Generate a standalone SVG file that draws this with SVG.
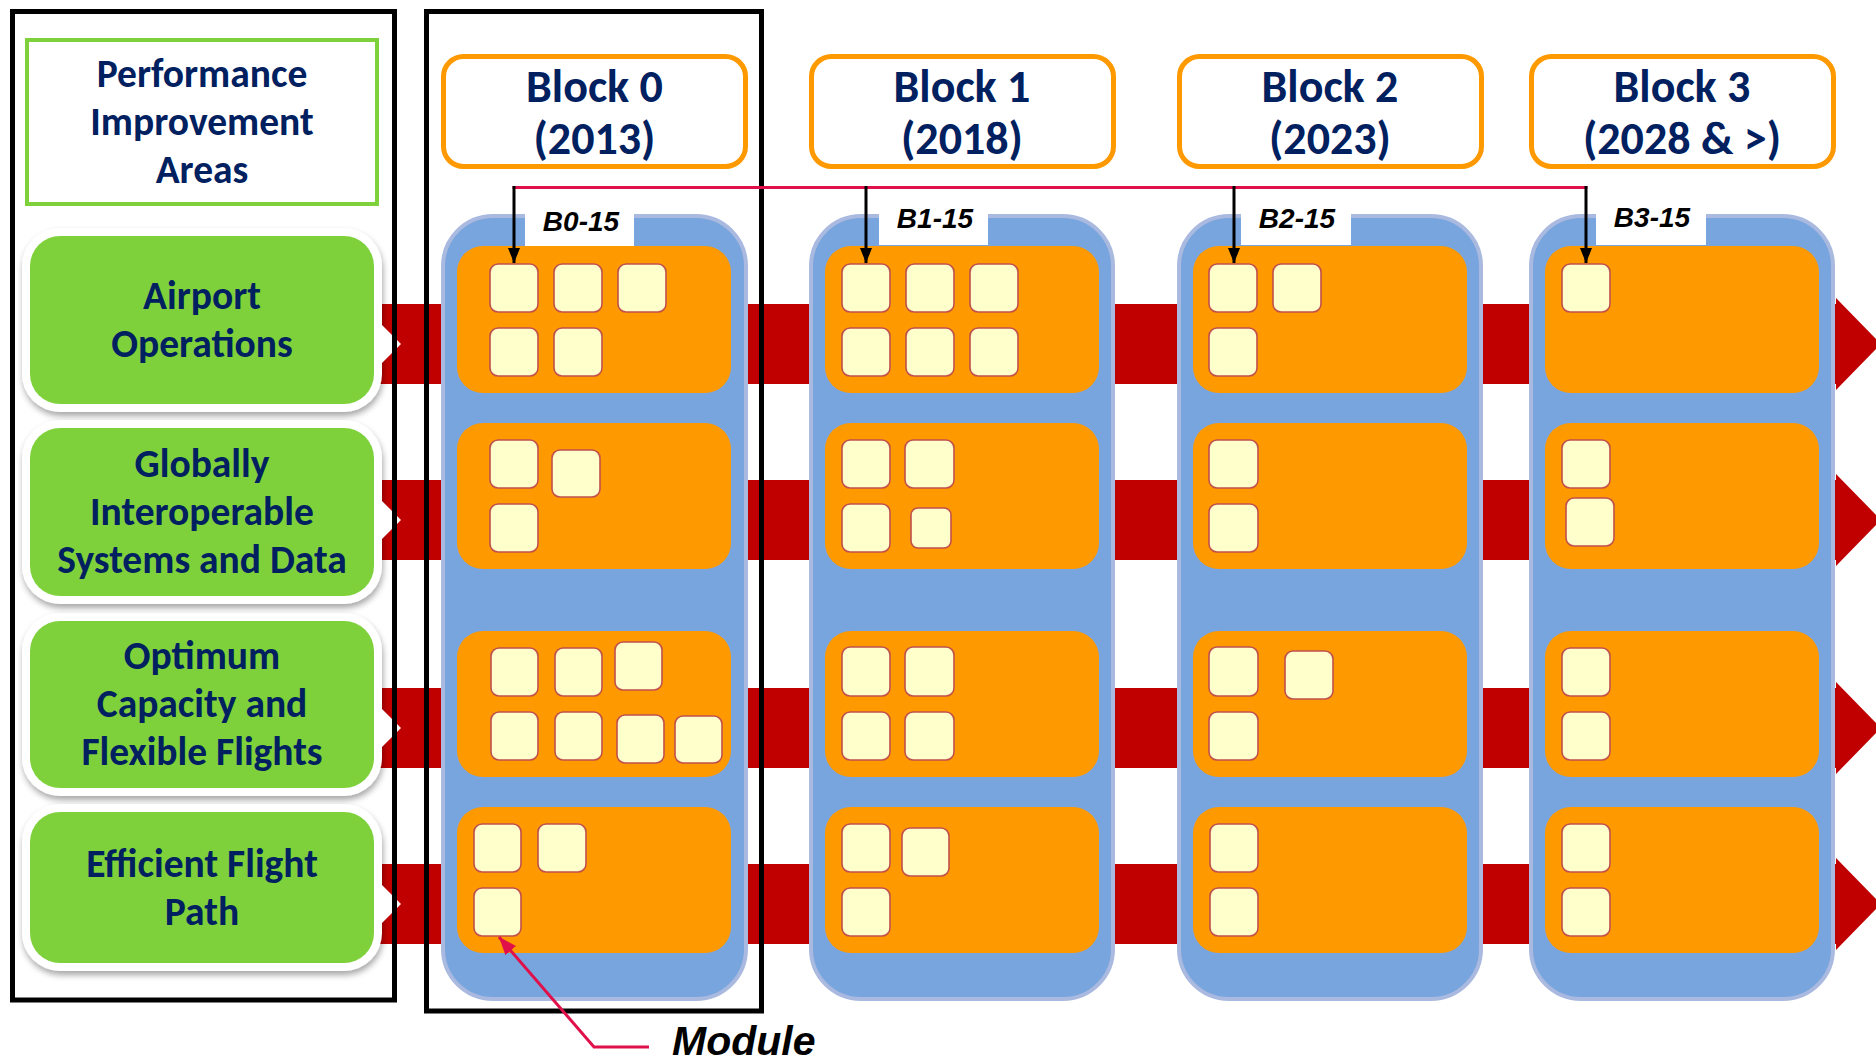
<svg xmlns="http://www.w3.org/2000/svg" width="1876" height="1064" viewBox="0 0 1876 1064">
<defs>
<style>
.band{fill:#C00000}
.notch{fill:#FFFFFF}
.frame{fill:none;stroke:#000000;stroke-width:5}
.col{fill:#78A5DD;stroke:#A9B9DF;stroke-width:4}
.row{fill:#FF9900}
.mod{fill:#FFFFCC;stroke:#C0504D;stroke-width:1.6}
.hdr{fill:#FFFFFF;stroke:#FF9900;stroke-width:5}
.lblbox{fill:#FFFFFF}
.outline{fill:#FFFFFF;filter:url(#sh)}
.green{fill:#7FD13B}
.t{font-family:Carlito,Lato,"Open Sans",sans-serif;font-weight:bold;fill:#002060;text-anchor:middle}
.ta{font-size:39.5px}
.th{font-size:46px}
.lbl{font-family:"Liberation Sans",Arial,sans-serif;font-weight:bold;font-style:italic;font-size:28px;fill:#000000;text-anchor:middle}
.redline{fill:none;stroke:#E0104A;stroke-width:3}
.blk{fill:none;stroke:#000000;stroke-width:3}
</style>
<filter id="sh" x="-10%" y="-10%" width="120%" height="125%">
<feDropShadow dx="1" dy="4" stdDeviation="3" flood-color="#000000" flood-opacity="0.35"/>
</filter>
<marker id="ah" viewBox="0 0 15 12" refX="15" refY="6" markerWidth="15" markerHeight="12" markerUnits="userSpaceOnUse" orient="auto">
<path d="M0,0 L15,6 L0,12 Z" fill="#000000"/>
</marker>
<marker id="ahr" viewBox="0 0 18 14" refX="18" refY="7" markerWidth="18" markerHeight="14" markerUnits="userSpaceOnUse" orient="auto">
<path d="M0,0 L18,7 L0,14 Z" fill="#E0104A"/>
</marker>
</defs>
<rect width="1876" height="1064" fill="#FFFFFF"/>

<g id="bands">
<path class="band" d="M370,304 H1836 V298 L1881,344 L1836,390 V384 H370 Z"/>
<path class="band" d="M370,480 H1836 V474 L1881,520 L1836,566 V560 H370 Z"/>
<path class="band" d="M370,688 H1836 V682 L1881,728 L1836,774 V768 H370 Z"/>
<path class="band" d="M370,864 H1836 V858 L1881,904 L1836,950 V944 H370 Z"/>
</g>

<g id="pia-header">
<rect x="27" y="40" width="350" height="164" fill="#FFFFFF" stroke="#7FD13B" stroke-width="4"/>
<text class="t ta" x="202" y="87">Performance</text>
<text class="t ta" x="202" y="135">Improvement</text>
<text class="t ta" x="202" y="183">Areas</text>
</g>

<g id="area-airport">
<rect class="outline" x="22" y="228" width="360" height="184" rx="38"/>
<rect class="green" x="30" y="236" width="344" height="168" rx="30"/>
<text class="t ta" x="202" y="309">Airport</text>
<text class="t ta" x="202" y="357">Operations</text>
</g>
<g id="area-globally">
<rect class="outline" x="22" y="420" width="360" height="184" rx="38"/>
<rect class="green" x="30" y="428" width="344" height="168" rx="30"/>
<text class="t ta" x="202" y="477">Globally</text>
<text class="t ta" x="202" y="525">Interoperable</text>
<text class="t ta" x="202" y="573">Systems and Data</text>
</g>
<g id="area-capacity">
<rect class="outline" x="22" y="613" width="360" height="183" rx="38"/>
<rect class="green" x="30" y="621" width="344" height="167" rx="30"/>
<text class="t ta" x="202" y="669">Optimum</text>
<text class="t ta" x="202" y="717">Capacity and</text>
<text class="t ta" x="202" y="765">Flexible Flights</text>
</g>
<g id="area-flightpath">
<rect class="outline" x="22" y="804" width="360" height="167" rx="38"/>
<rect class="green" x="30" y="812" width="344" height="151" rx="30"/>
<text class="t ta" x="202" y="877">Efficient Flight</text>
<text class="t ta" x="202" y="925">Path</text>
</g>

<g id="notches">
<polygon class="notch" points="381,324 401,344 381,364"/>
<polygon class="notch" points="381,500 401,520 381,540"/>
<polygon class="notch" points="381,708 401,728 381,748"/>
<polygon class="notch" points="381,884 401,904 381,924"/>
</g>

<g id="frames">
<rect class="frame" x="12.5" y="11.5" width="382" height="988.5"/>
<rect class="frame" x="426.5" y="11.5" width="335" height="999.5"/>
</g>

<g id="block0">
<rect class="hdr" x="443.5" y="56.5" width="302" height="110" rx="20"/>
<text class="t th" x="594.5" y="102">Block 0</text>
<text class="t th" x="594.5" y="154">(2013)</text>
<rect class="col" x="443" y="216" width="303" height="783" rx="50"/>
<rect class="lblbox" x="525" y="191" width="109" height="56"/>
<text class="lbl" x="581" y="231">B0-15</text>
<rect class="row" x="457" y="246" width="274" height="147" rx="26"/>
<rect class="row" x="457" y="423" width="274" height="146" rx="26"/>
<rect class="row" x="457" y="631" width="274" height="146" rx="26"/>
<rect class="row" x="457" y="807" width="274" height="146" rx="26"/>
<rect class="mod" x="490" y="264" width="48" height="48" rx="8"/>
<rect class="mod" x="554" y="264" width="48" height="48" rx="8"/>
<rect class="mod" x="618" y="264" width="48" height="48" rx="8"/>
<rect class="mod" x="490" y="328" width="48" height="48" rx="8"/>
<rect class="mod" x="554" y="328" width="48" height="48" rx="8"/>
<rect class="mod" x="490" y="440" width="48" height="48" rx="8"/>
<rect class="mod" x="552" y="450" width="48" height="47" rx="8"/>
<rect class="mod" x="490" y="504" width="48" height="48" rx="8"/>
<rect class="mod" x="491" y="648" width="47" height="48" rx="8"/>
<rect class="mod" x="555" y="648" width="47" height="48" rx="8"/>
<rect class="mod" x="615" y="642" width="47" height="48" rx="8"/>
<rect class="mod" x="491" y="712" width="47" height="48" rx="8"/>
<rect class="mod" x="555" y="712" width="47" height="48" rx="8"/>
<rect class="mod" x="617" y="715" width="47" height="48" rx="8"/>
<rect class="mod" x="675" y="716" width="47" height="47" rx="8"/>
<rect class="mod" x="474" y="824" width="47" height="48" rx="8"/>
<rect class="mod" x="538" y="824" width="48" height="48" rx="8"/>
<rect class="mod" x="474" y="888" width="47" height="48" rx="8"/>
</g>

<g id="block1">
<rect class="hdr" x="811.5" y="56.5" width="302" height="110" rx="20"/>
<text class="t th" x="962" y="102">Block 1</text>
<text class="t th" x="962" y="154">(2018)</text>
<rect class="col" x="811" y="216" width="302" height="783" rx="50"/>
<rect class="lblbox" x="879" y="190" width="109" height="55"/>
<text class="lbl" x="935" y="228">B1-15</text>
<rect class="row" x="825" y="246" width="274" height="147" rx="26"/>
<rect class="row" x="825" y="423" width="274" height="146" rx="26"/>
<rect class="row" x="825" y="631" width="274" height="146" rx="26"/>
<rect class="row" x="825" y="807" width="274" height="146" rx="26"/>
<rect class="mod" x="842" y="264" width="48" height="48" rx="8"/>
<rect class="mod" x="906" y="264" width="48" height="48" rx="8"/>
<rect class="mod" x="970" y="264" width="48" height="48" rx="8"/>
<rect class="mod" x="842" y="328" width="48" height="48" rx="8"/>
<rect class="mod" x="906" y="328" width="48" height="48" rx="8"/>
<rect class="mod" x="970" y="328" width="48" height="48" rx="8"/>
<rect class="mod" x="842" y="440" width="48" height="48" rx="8"/>
<rect class="mod" x="905" y="440" width="49" height="48" rx="8"/>
<rect class="mod" x="842" y="504" width="48" height="48" rx="8"/>
<rect class="mod" x="911" y="508" width="40" height="40" rx="7"/>
<rect class="mod" x="842" y="647" width="48" height="49" rx="8"/>
<rect class="mod" x="905" y="647" width="49" height="49" rx="8"/>
<rect class="mod" x="842" y="712" width="48" height="48" rx="8"/>
<rect class="mod" x="905" y="712" width="49" height="48" rx="8"/>
<rect class="mod" x="842" y="824" width="48" height="48" rx="8"/>
<rect class="mod" x="902" y="828" width="47" height="48" rx="8"/>
<rect class="mod" x="842" y="888" width="48" height="48" rx="8"/>
</g>

<g id="block2">
<rect class="hdr" x="1179.5" y="56.5" width="302" height="110" rx="20"/>
<text class="t th" x="1330" y="102">Block 2</text>
<text class="t th" x="1330" y="154">(2023)</text>
<rect class="col" x="1179" y="216" width="302" height="783" rx="50"/>
<rect class="lblbox" x="1241" y="190" width="110" height="55"/>
<text class="lbl" x="1297" y="228">B2-15</text>
<rect class="row" x="1193" y="246" width="274" height="147" rx="26"/>
<rect class="row" x="1193" y="423" width="274" height="146" rx="26"/>
<rect class="row" x="1193" y="631" width="274" height="146" rx="26"/>
<rect class="row" x="1193" y="807" width="274" height="146" rx="26"/>
<rect class="mod" x="1209" y="264" width="48" height="48" rx="8"/>
<rect class="mod" x="1273" y="264" width="48" height="48" rx="8"/>
<rect class="mod" x="1209" y="328" width="48" height="48" rx="8"/>
<rect class="mod" x="1209" y="440" width="49" height="48" rx="8"/>
<rect class="mod" x="1209" y="504" width="49" height="48" rx="8"/>
<rect class="mod" x="1209" y="647" width="49" height="49" rx="8"/>
<rect class="mod" x="1285" y="651" width="48" height="48" rx="8"/>
<rect class="mod" x="1209" y="712" width="49" height="48" rx="8"/>
<rect class="mod" x="1210" y="824" width="48" height="48" rx="8"/>
<rect class="mod" x="1210" y="888" width="48" height="48" rx="8"/>
</g>

<g id="block3">
<rect class="hdr" x="1531.5" y="56.5" width="302" height="110" rx="20"/>
<text class="t th" x="1682" y="102">Block 3</text>
<text class="t th" x="1682" y="154">(2028 &amp; &gt;)</text>
<rect class="col" x="1531" y="216" width="302" height="783" rx="50"/>
<rect class="lblbox" x="1596" y="190" width="110" height="55"/>
<text class="lbl" x="1652" y="227">B3-15</text>
<rect class="row" x="1545" y="246" width="274" height="147" rx="26"/>
<rect class="row" x="1545" y="423" width="274" height="146" rx="26"/>
<rect class="row" x="1545" y="631" width="274" height="146" rx="26"/>
<rect class="row" x="1545" y="807" width="274" height="146" rx="26"/>
<rect class="mod" x="1562" y="264" width="48" height="48" rx="8"/>
<rect class="mod" x="1562" y="440" width="48" height="48" rx="8"/>
<rect class="mod" x="1566" y="498" width="48" height="48" rx="8"/>
<rect class="mod" x="1562" y="648" width="48" height="48" rx="8"/>
<rect class="mod" x="1562" y="712" width="48" height="48" rx="8"/>
<rect class="mod" x="1562" y="824" width="48" height="48" rx="8"/>
<rect class="mod" x="1562" y="888" width="48" height="48" rx="8"/>
</g>

<g id="connectors">
<path class="redline" d="M512.5,187.5 H1587.5"/>
<path class="blk" d="M514,186 V263" marker-end="url(#ah)"/>
<path class="blk" d="M866,186 V263" marker-end="url(#ah)"/>
<path class="blk" d="M1234,186 V263" marker-end="url(#ah)"/>
<path class="blk" d="M1586,186 V263" marker-end="url(#ah)"/>
<path class="redline" d="M649,1047 H594 L499,937" marker-end="url(#ahr)" stroke-width="3.5"/>
</g>

<g id="module-label">
<text x="672" y="1055" font-family="'Liberation Sans',Arial,sans-serif" font-weight="bold" font-style="italic" font-size="41" fill="#000000">Module</text>
</g>
</svg>
